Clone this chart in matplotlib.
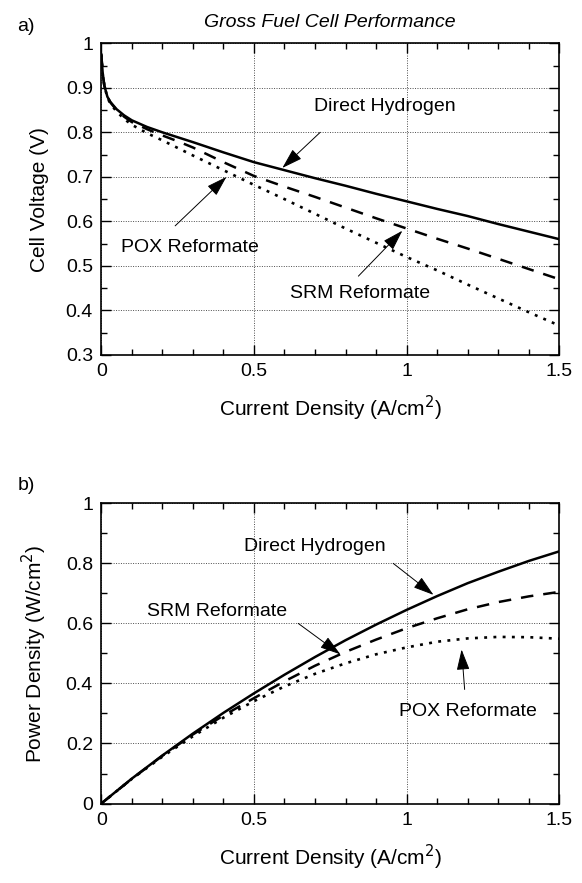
import matplotlib
matplotlib.use('Agg')
import matplotlib.pyplot as plt
from matplotlib.ticker import MultipleLocator

plt.rcParams['font.family'] = ['Liberation Sans', 'DejaVu Sans']

# current density (A/cm2) for the polarization curves
current = [0, 0.005, 0.01, 0.02, 0.03, 0.05, 0.075, 0.1, 0.15, 0.2, 0.25, 0.3,
           0.4, 0.5, 0.6, 0.7, 0.8, 0.9, 1.0, 1.1, 1.2, 1.3, 1.4, 1.5]

# cell voltage (V)
v_h2 = [0.975, 0.93, 0.905, 0.88, 0.868, 0.852, 0.838, 0.827, 0.812, 0.80, 0.789, 0.778,
        0.755, 0.733, 0.715, 0.697, 0.68, 0.662, 0.645, 0.628, 0.612, 0.594, 0.577, 0.56]
v_srm = [0.975, 0.93, 0.905, 0.88, 0.867, 0.85, 0.835, 0.823, 0.807, 0.793, 0.78, 0.766,
         0.733, 0.702, 0.678, 0.655, 0.631, 0.607, 0.584, 0.561, 0.539, 0.516, 0.493, 0.47]
v_pox = [0.975, 0.93, 0.905, 0.878, 0.864, 0.847, 0.83, 0.817, 0.798, 0.782, 0.765, 0.748,
         0.715, 0.682, 0.65, 0.617, 0.584, 0.552, 0.52, 0.49, 0.458, 0.427, 0.396, 0.366]

# power density (W/cm2)
current_p = [0, 0.1, 0.2, 0.3, 0.4, 0.5, 0.6, 0.7, 0.8, 0.9, 1.0, 1.1, 1.2, 1.3, 1.4, 1.5]
p_h2 = [0, 0.083, 0.160, 0.233, 0.302, 0.367, 0.429, 0.488, 0.544, 0.596, 0.645,
        0.691, 0.734, 0.772, 0.808, 0.840]
p_srm = [0, 0.082, 0.159, 0.230, 0.293, 0.351, 0.407, 0.459, 0.505, 0.546, 0.584,
         0.617, 0.647, 0.671, 0.690, 0.705]
p_pox = [0, 0.082, 0.156, 0.224, 0.286, 0.341, 0.390, 0.432, 0.467, 0.497, 0.520,
         0.539, 0.550, 0.555, 0.554, 0.549]

fig = plt.figure(figsize=(5.82, 8.83), dpi=100)
ax1 = fig.add_axes([0.174, 0.598, 0.787, 0.353])
ax2 = fig.add_axes([0.174, 0.09, 0.787, 0.340])

line_kw = dict(color='black')
arrow_kw = dict(arrowstyle='-|>,head_length=0.8,head_width=0.25', color='black',
                lw=0.7, mutation_scale=16, shrinkA=0, shrinkB=0)
TXT = 14


def style_axes(ax, ymin, ymax, ymaj, ymin_step):
    ax.set_xlim(0, 1.5)
    ax.set_ylim(ymin, ymax)
    ax.xaxis.set_major_locator(MultipleLocator(0.5))
    ax.xaxis.set_minor_locator(MultipleLocator(0.1))
    ax.yaxis.set_major_locator(MultipleLocator(ymaj))
    ax.yaxis.set_minor_locator(MultipleLocator(ymin_step))
    ax.tick_params(which='both', direction='in', top=True, right=True,
                   labelsize=14, width=1.0)
    ax.tick_params(which='major', length=7, pad=6)
    ax.tick_params(which='minor', length=4)
    ax.xaxis.set_major_formatter(plt.FuncFormatter(lambda v, p: f'{v:g}'))
    ax.yaxis.set_major_formatter(plt.FuncFormatter(lambda v, p: f'{v:g}'))
    ax.grid(True, which='major', linestyle=(0, (1, 1.5)), color='0.3', linewidth=0.7)
    for s in ax.spines.values():
        s.set_linewidth(1.2)
    ax.set_xlabel('Current Density (A/cm$^2$)', fontsize=15, labelpad=10)


# a) cell voltage
ax1.plot(current, v_h2, lw=1.8, ls='-', **line_kw)
ax1.plot(current, v_srm, lw=1.8, ls=(0, (5, 4)), **line_kw)
ax1.plot(current, v_pox, lw=1.9, ls=(0, (1.1, 2.4)), **line_kw)
style_axes(ax1, 0.3, 1.0, 0.1, 0.05)
ax1.set_ylabel('Cell Voltage (V)', fontsize=15, labelpad=12)
ax1.set_title('Gross Fuel Cell Performance', fontsize=14, style='italic', pad=12)

ax1.annotate('', xy=(0.593, 0.72), xytext=(0.717, 0.80), arrowprops=arrow_kw)
ax1.text(0.93, 0.857, 'Direct Hydrogen', fontsize=TXT, ha='center', va='center')
ax1.annotate('', xy=(0.986, 0.579), xytext=(0.842, 0.477), arrowprops=arrow_kw)
ax1.text(0.848, 0.439, 'SRM Reformate', fontsize=TXT, ha='center', va='center')
ax1.annotate('', xy=(0.41, 0.70), xytext=(0.242, 0.59), arrowprops=arrow_kw)
ax1.text(0.29, 0.542, 'POX Reformate', fontsize=TXT, ha='center', va='center')

# b) power density
ax2.plot(current_p, p_h2, lw=1.8, ls='-', **line_kw)
ax2.plot(current_p, p_srm, lw=1.8, ls=(0, (5, 4)), **line_kw)
ax2.plot(current_p, p_pox, lw=1.9, ls=(0, (1.1, 2.4)), **line_kw)
style_axes(ax2, 0, 1.0, 0.2, 0.1)
ax2.set_ylabel('Power Density (W/cm$^2$)', fontsize=15, labelpad=12)

ax2.annotate('', xy=(1.088, 0.695), xytext=(0.956, 0.80), arrowprops=arrow_kw)
ax2.text(0.70, 0.856, 'Direct Hydrogen', fontsize=TXT, ha='center', va='center')
ax2.annotate('', xy=(0.783, 0.497), xytext=(0.645, 0.60), arrowprops=arrow_kw)
ax2.text(0.38, 0.64, 'SRM Reformate', fontsize=TXT, ha='center', va='center')
ax2.annotate('', xy=(1.18, 0.513), xytext=(1.19, 0.38), arrowprops=arrow_kw)
ax2.text(1.2, 0.305, 'POX Reformate', fontsize=TXT, ha='center', va='center')

fig.text(0.03, 0.965, 'a)', fontsize=14)
fig.text(0.03, 0.445, 'b)', fontsize=14)

fig.savefig('out.png', dpi=100)
plt.close(fig)
